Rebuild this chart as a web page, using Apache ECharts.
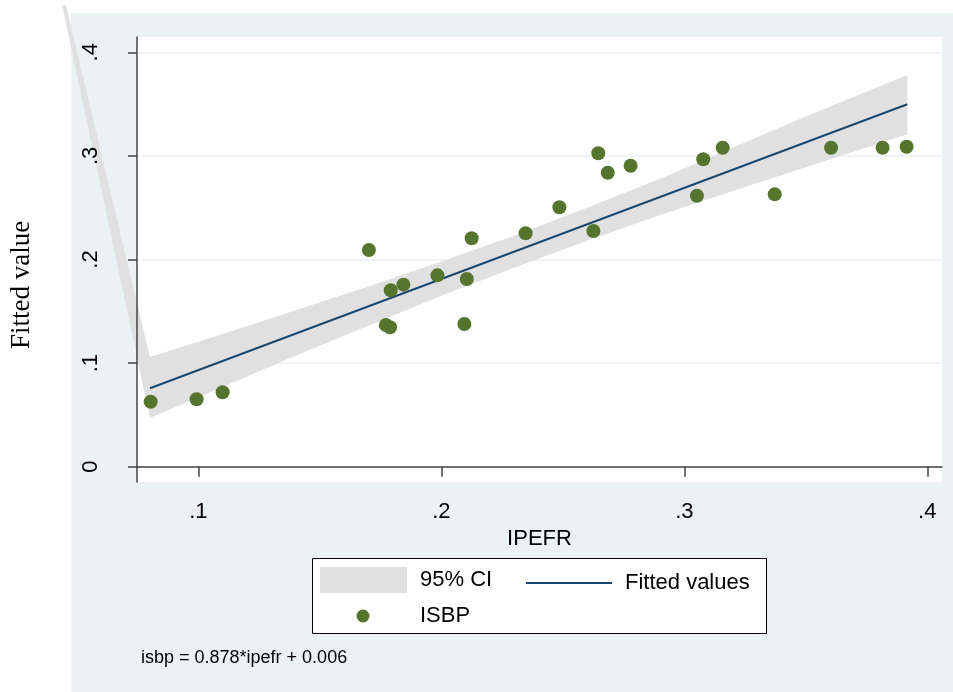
<!DOCTYPE html>
<html><head><meta charset="utf-8">
<script src="https://cdn.jsdelivr.net/npm/echarts@6/dist/echarts.min.js"></script>
<style>html,body{margin:0;padding:0;background:#fff}#c{width:953px;height:692px}</style>
</head><body><div id="c"></div>
<script>
const ipefr = [0.0804, 0.0993, 0.1100, 0.1702, 0.1772, 0.1789, 0.1792, 0.1844, 0.1984, 0.2095, 0.2105, 0.2125, 0.2347, 0.2486, 0.2626, 0.2646, 0.2685, 0.2779, 0.3052, 0.3078, 0.3158, 0.3372, 0.3604, 0.3816, 0.3915];
const isbp  = [0.0627, 0.0651, 0.0718, 0.2092, 0.1368, 0.1346, 0.1703, 0.1757, 0.1847, 0.1377, 0.1812, 0.2205, 0.2253, 0.2504, 0.2275, 0.3025, 0.2838, 0.2905, 0.2616, 0.2967, 0.3079, 0.2629, 0.3079, 0.3079, 0.3089];
const fitX = [0.0801, 0.3918];
const fitY = [0.0757, 0.3498];
const ciX     = [0.0801, 0.11, 0.14, 0.17, 0.20, 0.23, 0.26, 0.29, 0.32, 0.35, 0.3918];
const ciUpper = [0.106, 0.128, 0.151, 0.174, 0.198, 0.223, 0.250, 0.278, 0.308, 0.338, 0.378];
const ciLower = [0.047, 0.077, 0.107, 0.136, 0.165, 0.192, 0.218, 0.243, 0.266, 0.289, 0.321];
const ciTail = [0.031, 0.588];
const xTickValues = [0.1, 0.2, 0.3, 0.4];
const xTickLabels = ['.1', '.2', '.3', '.4'];
const yTickValues = [0, 0.1, 0.2, 0.3, 0.4];
const yTickLabels = ['0', '.1', '.2', '.3', '.4'];

const SANS = 'Liberation Sans, Arial, sans-serif';
function lab(values, labels) {
  return function (v) {
    let best = 0;
    for (let i = 1; i < values.length; i++) if (Math.abs(values[i] - v) < Math.abs(values[best] - v)) best = i;
    return labels[best];
  };
}
const chart = echarts.init(document.getElementById('c'), null, {renderer: 'canvas'});
const ciData = ciX.map((x, i) => [x, ciLower[i], ciUpper[i]]);
const legendText = {fontSize: 22, color: '#000', fontFamily: SANS};
const option = {
  animation: false,
  backgroundColor: '#ffffff',
  grid: {left: 137, top: 37, width: 805, height: 445, show: true, backgroundColor: '#ffffff', borderWidth: 0},
  xAxis: [{
    type: 'value', min: 0.07477, max: 0.40605, z: 10,
    axisLine: {show: true, lineStyle: {color: '#444', width: 1.5}},
    axisTick: {show: true, length: 10, customValues: xTickValues, lineStyle: {color: '#444', width: 1.5}},
    axisLabel: {customValues: xTickValues, formatter: lab(xTickValues, xTickLabels), margin: 19, fontSize: 22, color: '#000', fontFamily: SANS},
    splitLine: {show: false},
    name: 'IPEFR', nameLocation: 'middle', nameGap: 37,
    nameTextStyle: {fontSize: 22, color: '#000', fontFamily: SANS}
  }],
  yAxis: [{
    type: 'value', min: -0.01477, max: 0.41477, z: 0,
    axisLine: {show: false}, axisTick: {show: false, customValues: yTickValues},
    axisLabel: {show: false, customValues: yTickValues},
    splitLine: {show: true, lineStyle: {color: '#EAF2F3', width: 1.5}}
  }, {
    type: 'value', min: -0.01477, max: 0.41477, z: 10, position: 'left',
    axisLine: {show: true, lineStyle: {color: '#444', width: 1.5}},
    axisTick: {show: true, length: 9, customValues: yTickValues, lineStyle: {color: '#444', width: 1.5}},
    axisLabel: {customValues: yTickValues, formatter: lab(yTickValues, yTickLabels), rotate: 90, margin: 35, fontSize: 22, color: '#000', fontFamily: SANS},
    splitLine: {show: false}
  }],
  legend: [
    {left: 315, top: 562, itemWidth: 87, itemHeight: 26, selectedMode: false, z: 6,
     textStyle: Object.assign({padding: [0, 0, 0, 8]}, legendText),
     data: [{name: '95% CI', icon: 'rect', itemStyle: {color: '#E0E0E0'}}]},
    {left: 521, top: 567, itemWidth: 86, itemHeight: 2, selectedMode: false, z: 6,
     textStyle: Object.assign({padding: [0, 0, 0, 8]}, legendText),
     data: [{name: 'Fitted values', icon: 'rect', itemStyle: {color: '#1A476F'}}]},
    {left: 351.5, top: 600, itemWidth: 13, itemHeight: 13, selectedMode: false, z: 6,
     textStyle: Object.assign({padding: [0, 0, 0, 45.5]}, legendText),
     data: [{name: 'ISBP', icon: 'circle'}]}
  ],
  graphic: [
    {type: 'rect', z: -100, shape: {x: 71, y: 13, width: 882, height: 679}, style: {fill: '#EAF2F3'}},
    {type: 'rect', z: 50, silent: true, shape: {x: 0, y: 0, width: 71, height: 5}, style: {fill: '#ffffff'}},
    {type: 'rect', z: 5, shape: {x: 312.5, y: 558.5, width: 454, height: 75}, style: {fill: '#ffffff', stroke: '#000', lineWidth: 1}},
    {type: 'text', z: 5, x: 22, y: 285, rotation: Math.PI / 2,
     style: {text: 'Fitted value', font: '27px "Liberation Serif", "Times New Roman", serif', fill: '#000', textAlign: 'center', textVerticalAlign: 'middle'}},
    {type: 'text', z: 5, x: 141, y: 658,
     style: {text: 'isbp = 0.878*ipefr + 0.006', font: '18px "Liberation Sans", Arial, sans-serif', fill: '#000', textAlign: 'left', textVerticalAlign: 'middle'}}
  ],
  series: [
    {
      name: '95% CI', type: 'custom', xAxisIndex: 0, yAxisIndex: 0, clip: false, z: 2,
      itemStyle: {color: '#E0E0E0'},
      encode: {x: 0, y: [1, 2]},
      data: ciData,
      renderItem: function (params, api) {
        if (params.dataIndex !== 0) return null;
        const pts = [api.coord(ciTail)];
        for (let i = 0; i < ciX.length; i++) pts.push(api.coord([ciX[i], ciUpper[i]]));
        for (let i = ciX.length - 1; i >= 0; i--) pts.push(api.coord([ciX[i], ciLower[i]]));
        return {type: 'polygon', shape: {points: pts}, style: {fill: '#E0E0E0'}};
      }
    },
    {
      name: 'Fitted values', type: 'line', xAxisIndex: 0, yAxisIndex: 0, z: 3,
      symbol: 'none', showSymbol: false,
      lineStyle: {color: '#1A476F', width: 2}, itemStyle: {color: '#1A476F'},
      data: fitX.map((x, i) => [x, fitY[i]])
    },
    {
      name: 'ISBP', type: 'scatter', xAxisIndex: 0, yAxisIndex: 0, z: 4,
      symbol: 'circle', symbolSize: 14,
      itemStyle: {color: '#55752F', opacity: 1},
      data: ipefr.map((x, i) => [x, isbp[i]])
    }
  ]
};
chart.setOption(option);
</script></body></html>
